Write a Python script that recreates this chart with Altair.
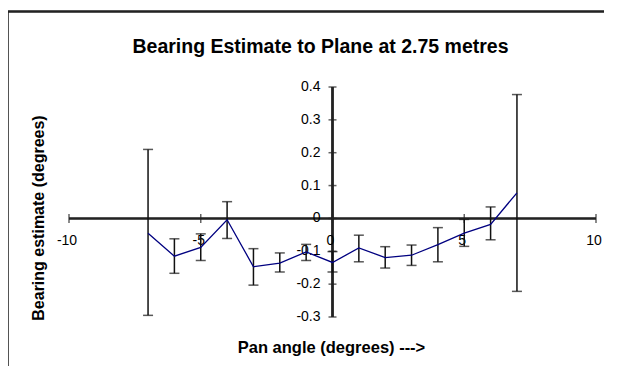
import altair as alt
import pandas as pd

pan_angle = [-7, -6, -5, -4, -3, -2, -1, 0, 1, 2, 3, 4, 5, 6, 7]
bearing = [-0.045, -0.115, -0.088, -0.004, -0.147, -0.136, -0.102, -0.134,
           -0.090, -0.119, -0.112, -0.080, -0.045, -0.018, 0.078]
err_low = [-0.295, -0.167, -0.128, -0.061, -0.203, -0.163, -0.128, -0.163,
           -0.132, -0.151, -0.143, -0.132, -0.085, -0.065, -0.222]
err_high = [0.210, -0.062, -0.047, 0.051, -0.092, -0.105, -0.079, -0.101,
            -0.051, -0.086, -0.081, -0.028, -0.003, 0.035, 0.377]
x_ticks = [-10, -5, 0, 5, 10]
x_labels = ["-10", "-5", "0", "5", "10"]
y_ticks = [0.4, 0.3, 0.2, 0.1, 0.0, -0.1, -0.2, -0.3]
y_labels = ["0.4", "0.3", "0.2", "0.1", "0", "-0.1", "-0.2", "-0.3"]
title_text = "Bearing Estimate to Plane at 2.75 metres"
x_title = "Pan angle (degrees) --->"
y_title = "Bearing estimate (degrees)"

W, H = 527, 230
df = pd.DataFrame({"x": pan_angle, "y": bearing, "lo": err_low, "hi": err_high})
xt = pd.DataFrame({"x": x_ticks, "y": [0] * len(x_ticks), "lab": x_labels})
yt = pd.DataFrame({"x": [0] * len(y_ticks), "y": y_ticks, "lab": y_labels})

xs = alt.Scale(domain=[-10, 10], nice=False, zero=False)
ys = alt.Scale(domain=[-0.3, 0.4], nice=False, zero=False)
FONT = "Liberation Sans"


def X(f):
    return alt.X(f, scale=xs, axis=None)


def Y(f):
    return alt.Y(f, scale=ys, axis=None)


base = alt.Chart(df)
line = base.mark_line(color="#000080", strokeWidth=1.3).encode(x=X("x:Q"), y=Y("y:Q"))
bars = base.mark_rule(color="#111111", strokeWidth=1.5).encode(
    x=X("x:Q"), y=Y("lo:Q"), y2="hi:Q")
cap_lo = base.mark_tick(color="#111111", thickness=1.5, size=10, orient="horizontal").encode(
    x=X("x:Q"), y=Y("lo:Q"))
cap_hi = base.mark_tick(color="#111111", thickness=1.5, size=10, orient="horizontal").encode(
    x=X("x:Q"), y=Y("hi:Q"))

x_line = alt.Chart(xt).mark_rule(color="#222222", strokeWidth=1.5).encode(
    x=alt.datum(-10, scale=xs, axis=None), x2=alt.datum(10), y=alt.datum(0, scale=ys, axis=None))
y_line = alt.Chart(yt).mark_rule(color="#222222", strokeWidth=1.5).encode(
    y=alt.datum(-0.3, scale=ys, axis=None), y2=alt.datum(0.4), x=alt.datum(0, scale=xs, axis=None))
x_tk = alt.Chart(xt).mark_tick(color="#222222", thickness=1.5, size=9, orient="vertical").encode(
    x=X("x:Q"), y=Y("y:Q"))
y_tk = alt.Chart(yt).mark_tick(color="#222222", thickness=1.5, size=8, orient="horizontal").encode(
    x=X("x:Q"), y=Y("y:Q"))
x_lab = alt.Chart(xt).mark_text(font=FONT, fontSize=14, color="black", align="center",
                                baseline="middle", dy=23, dx=-2).encode(
    x=X("x:Q"), y=Y("y:Q"), text="lab:N")
y_lab = alt.Chart(yt).mark_text(font=FONT, fontSize=14, color="black", align="right",
                                baseline="middle", dx=-12).encode(
    x=X("x:Q"), y=Y("y:Q"), text="lab:N")

frame_v = alt.Chart(xt).mark_rule(color="#222222", strokeWidth=1.5).encode(
    x=alt.value(-61.5), y=alt.value(-75.5), y2=alt.value(320))
frame_h = alt.Chart(xt).mark_rule(color="#222222", strokeWidth=1.5).encode(
    x=alt.value(-61.5), x2=alt.value(W + 20), y=alt.value(-75.5))

texts = pd.DataFrame({"t": [title_text], "xt": [x_title], "yt": [y_title]})
title = alt.Chart(texts).mark_text(
    font=FONT, fontSize=19.5, fontWeight="bold", color="black", baseline="alphabetic", align="center"
).encode(text="t:N", x=alt.value(251.5), y=alt.value(-34.5))
xtitle = alt.Chart(texts).mark_text(
    font=FONT, fontSize=16.5, fontWeight="bold", color="black", baseline="alphabetic", align="center"
).encode(text="xt:N", x=alt.value(262.5), y=alt.value(265.5))
ytitle = alt.Chart(texts).mark_text(
    font=FONT, fontSize=16, fontWeight="bold", color="black", baseline="middle", align="center",
    angle=270
).encode(text="yt:N", x=alt.value(-30), y=alt.value(131))

chart = alt.layer(frame_v, frame_h, title, xtitle, ytitle, x_line, y_line, x_tk, y_tk,
                  x_lab, y_lab, bars, cap_lo, cap_hi, line).properties(
    width=W, height=H,
    padding={"left": 61, "top": 79, "right": 8, "bottom": 49},
    autosize=alt.AutoSizeParams(type="none"),
).configure(background="white").configure_view(strokeWidth=0, stroke=None)

chart.save("out.html", embed_options={"renderer": "svg", "actions": False})
